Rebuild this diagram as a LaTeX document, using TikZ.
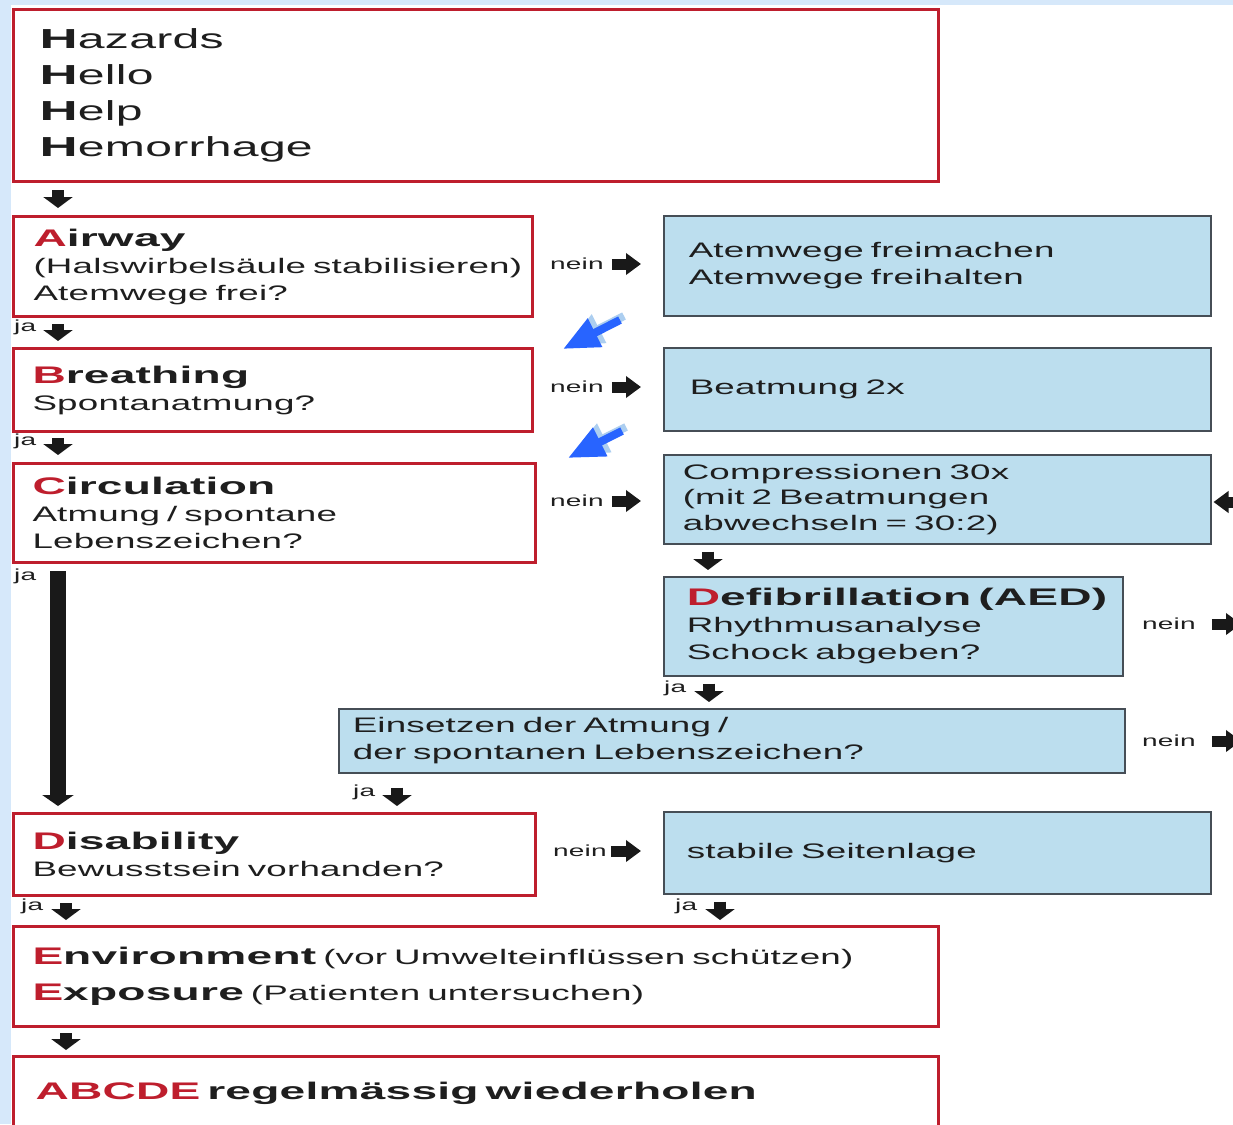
\documentclass[tikz,border=0pt]{standalone}
\usepackage{fontspec}
\setmainfont{Liberation Sans}[FakeStretch=1.75, LetterSpace=1, WordSpace=1.3, BoldFeatures={FakeStretch=1.92}]
\usepackage{xcolor}
\usetikzlibrary{arrows.meta,calc}

\definecolor{abcred}{RGB}{190,30,45}
\definecolor{boxblue}{RGB}{188,222,238}
\definecolor{boxgray}{RGB}{70,78,86}
\definecolor{pageblue}{RGB}{214,232,250}
\definecolor{arrowblack}{RGB}{25,25,25}
\definecolor{txtblack}{RGB}{30,30,30}
\definecolor{hintblue}{RGB}{40,100,255}
\definecolor{hintshadow}{RGB}{172,206,240}

\hyphenpenalty=10000
\exhyphenpenalty=10000

\newcommand{\bodyfont}{\fontsize{21}{27}\selectfont}
\newcommand{\abcHead}[2]{{\fontsize{24}{27}\selectfont\bfseries\textcolor{abcred}{#1}#2}}

\tikzset{
  redbox/.style={draw=abcred, line width=3pt, fill=white, anchor=north west,
    inner ysep=0pt, align=left, text=txtblack, font=\bodyfont},
  bluebox/.style={draw=boxgray, line width=1.5pt, fill=boxblue, anchor=north west,
    inner ysep=0pt, align=left, text=txtblack, font=\bodyfont},
  lbl/.style={font=\fontsize{16}{18}\selectfont, text=txtblack, inner sep=0pt, anchor=west},
  blkdown/.style={draw=arrowblack, line width=12pt, -{Triangle[width=29pt,length=11pt]}},
  blkright/.style={draw=arrowblack, line width=11pt, -{Triangle[width=21pt,length=15pt]}},
  blklong/.style={draw=arrowblack, line width=16pt, -{Triangle[width=31pt,length=11pt]}},
  hint/.style={draw=hintblue, line width=8pt, -{Triangle[width=30pt,length=36pt]}},
  hintshade/.style={draw=hintshadow, line width=8pt, -{Triangle[width=30pt,length=36pt]}}
}

\begin{document}
\begin{tikzpicture}[x=1pt, y=-1pt]
  \useasboundingbox (0,0) rectangle (1233,1124);
  \clip (0,0) rectangle (1233,1124);

  % Page background
  \fill[pageblue] (0,0) rectangle (1233,1124);
  \fill[white] (11,5) rectangle (1233,1124);

  % Red boxes on the left
  \node[redbox, minimum height=172pt, text width=873pt, inner xsep=26pt,
    font=\fontsize{27.5}{36}\selectfont] (hbox) at (12,8)
    {\textbf{H}azards\\\textbf{H}ello\\\textbf{H}elp\\\textbf{H}emorrhage};
  \node[redbox, minimum height=100pt, text width=479pt, inner xsep=20pt] (airway) at (12,215)
    {\abcHead{A}{irway}\\(Halswirbelsäule~stabilisieren)\\Atemwege~frei?};
  \node[redbox, minimum height=83pt, text width=481pt, inner xsep=19pt] (breath) at (12,347)
    {\abcHead{B}{reathing}\\Spontanatmung?};
  \node[redbox, minimum height=99pt, text width=484pt, inner xsep=19pt] (circ) at (12,462)
    {\abcHead{C}{irculation}\\Atmung~/~spontane\\Lebenszeichen?};
  \node[redbox, minimum height=82pt, text width=484pt, inner xsep=19pt] (disab) at (12,812)
    {\abcHead{D}{isability}\\Bewusstsein~vorhanden?};
  \node[redbox, minimum height=100pt, text width=887pt, inner xsep=19pt,
    font=\fontsize{21}{36}\selectfont] (env) at (12,925)
    {\abcHead{E}{nvironment}~(vor~Umwelteinflüssen~schützen)\\\abcHead{E}{xposure}~(Patienten~untersuchen)};
  \node[redbox, minimum height=73pt, text width=881pt, inner xsep=22pt] (abcde) at (12,1055)
    {{\fontsize{24}{27}\selectfont\bfseries\textcolor{abcred}{ABCDE}~regelmässig~wiederholen}};

  % Blue boxes on the right
  \node[bluebox, minimum height=100pt, text width=497pt, inner xsep=25pt] (atem) at (663,215)
    {Atemwege~freimachen\\Atemwege~freihalten};
  \node[bluebox, minimum height=83pt, text width=495pt, inner xsep=26pt] (beat) at (663,347)
    {Beatmung~2x};
  \node[bluebox, minimum height=89pt, text width=509pt, inner xsep=19pt,
    font=\fontsize{21}{25.5}\selectfont] (comp) at (663,454)
    {Compressionen~30x\\(mit~2~Beatmungen\\abwechseln~=~30:2)};
  \node[bluebox, minimum height=99pt, text width=413pt, inner xsep=23pt] (defib) at (663,576)
    {\abcHead{D}{efibrillation~(AED)}\\Rhythmusanalyse\\Schock~abgeben?};
  \node[bluebox, minimum height=64pt, text width=758pt, inner xsep=14pt] (einsetz) at (338,708)
    {Einsetzen~der~Atmung~/\\der~spontanen~Lebenszeichen?};
  \node[bluebox, minimum height=82pt, text width=501pt, inner xsep=23pt] (stabil) at (663,811)
    {stabile~Seitenlage};

  % ja / nein labels
  \node[lbl] (ja1) at (14,327) {ja};
  \node[lbl] (ja2) at (14,441) {ja};
  \node[lbl] (ja3) at (14,576) {ja};
  \node[lbl] (ja4) at (664,688) {ja};
  \node[lbl] (ja5) at (353,792) {ja};
  \node[lbl] (ja6) at (21,906) {ja};
  \node[lbl] (ja7) at (675,906) {ja};
  \node[lbl] (nein1) at (550,264) {nein};
  \node[lbl] (nein2) at (550,387) {nein};
  \node[lbl] (nein3) at (550,501) {nein};
  \node[lbl] (nein4) at (1142,624) {nein};
  \node[lbl] (nein5) at (1142,741) {nein};
  \node[lbl] (nein6) at (553,851) {nein};

  % Arrows leaving the picture on the right
  \coordinate (outR) at (1241,0);
  \coordinate (inR) at (1250,502);

  % Down arrows
  \draw[blkdown] ($(hbox.south west)+(46,7)$) -- ($(airway.north west)+(46,-7)$);
  \draw[blkdown] ($(airway.south west)+(46,6)$) -- ($(breath.north west)+(46,-6)$);
  \draw[blkdown] ($(breath.south west)+(46,5)$) -- ($(circ.north west)+(46,-7)$);
  \draw[blklong] ($(circ.south west)+(46,7)$) -- ($(disab.north west)+(46,-6)$);
  \draw[blkdown] ($(comp.south west)+(45,7)$) -- ($(defib.north west)+(45,-6)$);
  \draw[blkdown] ($(defib.south west)+(46,7)$) -- ($(einsetz.north west)+(371,-6)$);
  \draw[blkdown] ($(einsetz.south west)+(59,14)$) -- ($(disab.north west)+(385,-6)$);
  \draw[blkdown] ($(disab.south west)+(54,6)$) -- ($(env.north west)+(54,-5)$);
  \draw[blkdown] ($(stabil.south west)+(57,7)$) -- ($(env.north west)+(708,-5)$);
  \draw[blkdown] ($(env.south west)+(54,5)$) -- ($(abcde.north west)+(54,-5)$);

  % nein arrows
  \draw[blkright] ([xshift=8pt]nein1.east) -- ([xshift=-22pt]nein1.east -| atem.west);
  \draw[blkright] ([xshift=8pt]nein2.east) -- ([xshift=-22pt]nein2.east -| beat.west);
  \draw[blkright] ([xshift=8pt]nein3.east) -- ([xshift=-22pt]nein3.east -| comp.west);
  \draw[blkright] ([xshift=4pt]nein6.east) -- ([xshift=-22pt]nein6.east -| stabil.west);
  \draw[blkright] ([xshift=16pt]nein4.east) -- (nein4.east -| outR);
  \draw[blkright] ([xshift=16pt]nein5.east) -- (nein5.east -| outR);
  \draw[blkright] (inR) -- ([xshift=2pt]comp.east |- inR);

  % Blue hint arrows
  \coordinate (hint1a) at (620,320);
  \coordinate (hint1b) at (563,349);
  \coordinate (hint2a) at (622,431);
  \coordinate (hint2b) at (568,458);
  \draw[hintshade] ([shift={(4,-4)}]hint1a) -- ([shift={(4,-4)}]hint1b);
  \draw[hint] (hint1a) -- (hint1b);
  \draw[hintshade] ([shift={(4,-4)}]hint2a) -- ([shift={(4,-4)}]hint2b);
  \draw[hint] (hint2a) -- (hint2b);
\end{tikzpicture}
\end{document}
